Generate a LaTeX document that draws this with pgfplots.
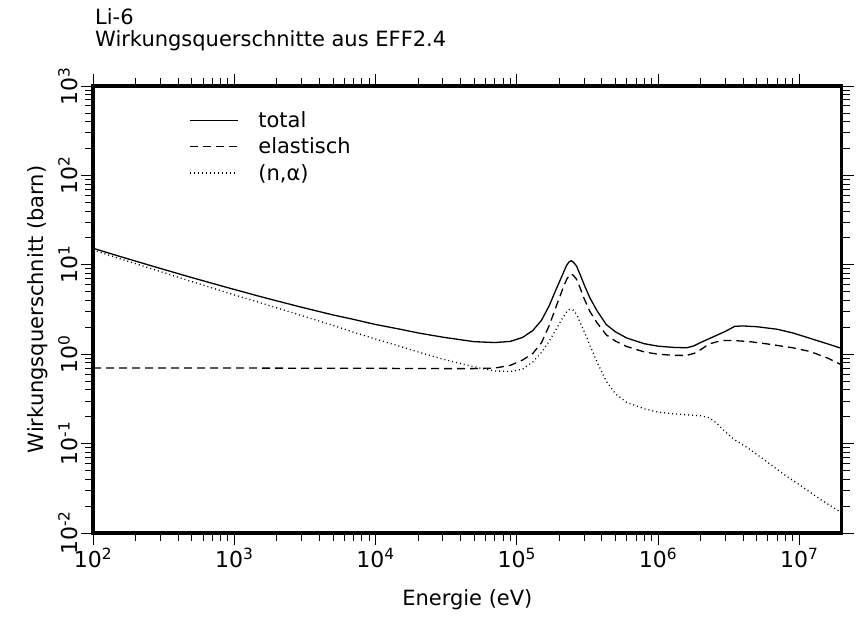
\documentclass[border=0pt]{standalone}
\usepackage{fontspec}
\setmainfont{DejaVu Sans}
\usepackage{pgfplots}
\pgfplotsset{compat=1.18}
\newcommand{\dec}[1]{10\textsuperscript{#1}}

% Li-6 cross sections (barn) versus neutron energy (eV)
\begin{document}
\begin{tikzpicture}
\useasboundingbox (0pt,0pt) rectangle (857pt,620pt);
\node[anchor=base west,inner sep=0pt,font=\fontsize{21}{24}\selectfont] at (95pt,595pt) {Li-6};
\node[anchor=base west,inner sep=0pt,font=\fontsize{21}{24}\selectfont] at (95pt,573pt) {Wirkungsquerschnitte aus EFF2.4};
\begin{axis}[
  at={(93pt,87pt)}, anchor=south west,
  scale only axis, width=748.7pt, height=447pt,
  xmode=log, ymode=log,
  xmin=100, xmax=2e7, ymin=1e-2, ymax=1e3,
  tick align=outside,
  major tick length=12pt, minor tick length=8pt,
  every tick/.style={black, line width=0.8pt},
  xtick={1e2,1e3,1e4,1e5,1e6,1e7},
  xticklabels={\dec{2},\dec{3},\dec{4},\dec{5},\dec{6},\dec{7}},
  ytick={1e-2,1e-1,1e0,1e1,1e2,1e3},
  yticklabels={\dec{-2},\dec{-1},\dec{0},\dec{1},\dec{2},\dec{3}},
  ticklabel style={font=\fontsize{22}{26}\selectfont},
  yticklabel style={rotate=90, anchor=south},
  xlabel={Energie (eV)},
  xlabel style={yshift=-15pt},
  ylabel={Wirkungsquerschnitt (barn)},
  ylabel style={yshift=3pt},
  label style={font=\fontsize{21}{25}\selectfont},
  legend style={at={(0.128,0.948)}, anchor=north west, draw=none, fill=none,
    font=\fontsize{21}{25}\selectfont, row sep=5pt, inner sep=0pt,
    cells={anchor=west},
    /tikz/every odd column/.append style={column sep=18pt}},
  legend image code/.code={\draw[#1] (0pt,0pt) -- (48pt,0pt);},
  cycle list={{black,solid},{black,dash pattern=on 8pt off 5pt},{black,dash pattern=on 1pt off 3pt}},
  every axis plot/.append style={no markers, line width=1.3pt},
  after end axis/.code={
    \draw[line width=3.2pt] (rel axis cs:0,0) rectangle (rel axis cs:1,1);
  },
]
\addplot table {
100 15.3
150 12.6
200 11.0
300 9.1
500 7.2
700 6.2
1000 5.3
1500 4.45
2000 3.95
3000 3.35
5000 2.75
7000 2.45
1e4 2.15
1.5e4 1.9
2e4 1.73
3e4 1.55
5e4 1.38
7e4 1.35
9e4 1.39
1.1e5 1.54
1.3e5 1.84
1.5e5 2.4
1.7e5 3.5
1.9e5 5.3
2.1e5 7.6
2.25e5 9.8
2.35e5 10.8
2.43e5 11.1
2.52e5 10.7
2.65e5 9.7
2.8e5 7.9
3.0e5 6.0
3.3e5 4.25
3.7e5 3.07
4.3e5 2.15
5.0e5 1.78
6.0e5 1.52
8.0e5 1.31
1.0e6 1.23
1.3e6 1.19
1.6e6 1.18
1.8e6 1.24
2.0e6 1.35
2.5e6 1.58
3.0e6 1.8
3.5e6 2.05
4.0e6 2.07
5.0e6 2.03
7.0e6 1.9
9.0e6 1.73
1.2e7 1.5
1.6e7 1.3
2.0e7 1.16
};
\addlegendentry{total}
\addplot table {
100 0.70
1000 0.70
1e4 0.695
3e4 0.69
5e4 0.69
7e4 0.70
9e4 0.75
1.1e5 0.86
1.3e5 1.02
1.5e5 1.35
1.7e5 2.1
1.9e5 3.4
2.1e5 5.2
2.25e5 6.8
2.35e5 7.6
2.43e5 7.9
2.52e5 7.6
2.65e5 6.9
2.8e5 5.6
3.0e5 4.2
3.3e5 3.0
3.7e5 2.25
4.3e5 1.65
5.0e5 1.4
6.0e5 1.22
8.0e5 1.06
1.0e6 1.0
1.3e6 0.97
1.6e6 0.97
1.8e6 1.02
2.0e6 1.12
2.3e6 1.3
2.8e6 1.42
3.5e6 1.42
4.5e6 1.38
6.0e6 1.3
9.0e6 1.18
1.2e7 1.07
1.6e7 0.9
2.0e7 0.76
};
\addlegendentry{elastisch}
\addplot table {
100 14.6
150 11.9
200 10.3
300 8.4
500 6.5
700 5.5
1000 4.6
1500 3.8
2000 3.3
3000 2.7
5000 2.1
7000 1.76
1e4 1.48
1.5e4 1.22
2e4 1.06
3e4 0.88
5e4 0.72
7e4 0.65
9e4 0.64
1.1e5 0.68
1.3e5 0.82
1.5e5 1.05
1.7e5 1.4
1.9e5 1.9
2.1e5 2.5
2.25e5 2.95
2.35e5 3.15
2.43e5 3.2
2.52e5 3.1
2.65e5 2.8
2.8e5 2.3
3.0e5 1.8
3.3e5 1.25
3.7e5 0.82
4.3e5 0.5
5.0e5 0.36
6.0e5 0.29
8.0e5 0.245
1.0e6 0.225
1.3e6 0.215
1.6e6 0.21
2.0e6 0.205
2.3e6 0.195
2.6e6 0.17
3.0e6 0.135
3.5e6 0.11
4.3e6 0.09
5.5e6 0.068
6.6e6 0.055
8.0e6 0.044
1.02e7 0.034
1.4e7 0.024
2.0e7 0.0168
};
\addlegendentry{(n,α)}
\end{axis}
\end{tikzpicture}
\end{document}
